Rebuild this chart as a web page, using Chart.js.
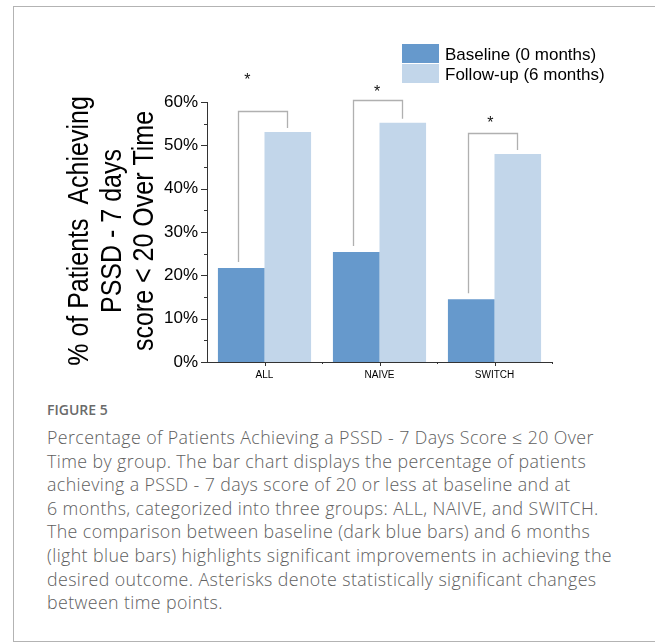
<!DOCTYPE html>
<html>
<head>
<meta charset="utf-8">
<script src="https://cdn.jsdelivr.net/npm/chart.js@4.4.0/dist/chart.umd.min.js"></script>
<style>
    body { margin: 0; background: #fff; width: 655px; height: 642px; overflow: hidden; position: relative; font-family: "Open Sans", sans-serif; }
    #marco { position: absolute; left: 13px; top: 6px; width: 700px; height: 634px; border: 1px solid #b3b3b3; border-right: none; }
    #grafico { position: absolute; left: 0; top: 0; }
    #figura { position: absolute; left: 47px; top: 400px; font-size: 14px; line-height: 19px; font-weight: 600; color: #6a6a6a; }
    #leyenda-texto { position: absolute; left: 47px; top: 426px; font-size: 17.8px; line-height: 23.6px; font-weight: 300; letter-spacing: 0.4px; color: #606060; white-space: nowrap; }
</style>
</head>
<body>
<div id="marco"></div>
<canvas id="grafico" width="655" height="400"></canvas>
<div id="figura">FIGURE 5</div>
<div id="leyenda-texto">
    Percentage of Patients Achieving a PSSD - 7 Days Score ≤ 20 Over<br>
    Time by group. The bar chart displays the percentage of patients<br>
    achieving a PSSD - 7 days score of 20 or less at baseline and at<br>
    6 months, categorized into three groups: ALL, NAIVE, and SWITCH.<br>
    The comparison between baseline (dark blue bars) and 6 months<br>
    (light blue bars) highlights significant improvements in achieving the<br>
    desired outcome. Asterisks denote statistically significant changes<br>
    between time points.
</div>
<script>
// datos
const grupos = ['ALL', 'NAIVE', 'SWITCH'];
const baseline = [21.7, 25.4, 14.5];
const seguimiento = [53.1, 55.2, 48.0];
const ticksY = [0, 10, 20, 30, 40, 50, 60];
const leyenda = ['Baseline (0 months)', 'Follow-up (6 months)'];
const tituloY = ['% of Patients  Achieving', 'PSSD - 7 days', 'score < 20 Over Time'];

// corchetes de significancia (en % del eje y) y asteriscos
const corcheteTope = [57.9, 60.5, 52.8];
const asteriscoY = [66.0, 63.2, 56.1];
const asteriscoX = [-0.15, 0.98, 1.965];

const colores = ['#6699cc', '#c2d6ea'];
const fuente = '"Liberation Sans", Arial, sans-serif';

const adornos = {
    id: 'adornos',
    afterDraw: function (chart) {
        const ctx = chart.ctx;
        const x = chart.scales.x, y = chart.scales.y, area = chart.chartArea;
        ctx.save();

        // marcas de los ejes
        ctx.strokeStyle = '#333';
        ctx.lineWidth = 1;
        ctx.beginPath();
        ticksY.forEach((v, i) => {
            const py = Math.round(y.getPixelForValue(v)) + 0.5;
            ctx.moveTo(area.left - 6, py);
            ctx.lineTo(area.left, py);
            if (i > 0) {
                const pm = Math.round(y.getPixelForValue((v + ticksY[i - 1]) / 2)) + 0.5;
                ctx.moveTo(area.left - 3, pm);
                ctx.lineTo(area.left, pm);
            }
        });
        grupos.forEach((g, i) => {
            const px = Math.round(x.getPixelForValue(i)) + 0.5;
            ctx.moveTo(px, area.bottom);
            ctx.lineTo(px, area.bottom + 4);
            const pb = Math.round(x.getPixelForValue(i + 0.5)) + 0.5;
            ctx.moveTo(pb, area.bottom);
            ctx.lineTo(pb, area.bottom + 2);
        });
        ctx.stroke();

        // corchetes y asteriscos
        const m0 = chart.getDatasetMeta(0).data, m1 = chart.getDatasetMeta(1).data;
        grupos.forEach((g, i) => {
            const xa = Math.round(m0[i].x) - 3 + 0.5;
            const xb = Math.round(m1[i].x) - 1 + 0.5;
            const tope = Math.round(y.getPixelForValue(corcheteTope[i])) + 0.5;
            ctx.strokeStyle = '#b0b0b0';
            ctx.lineWidth = 1.3;
            ctx.beginPath();
            ctx.moveTo(xa, m0[i].y - 6);
            ctx.lineTo(xa, tope);
            ctx.lineTo(xb, tope);
            ctx.lineTo(xb, m1[i].y - 4);
            ctx.stroke();
            ctx.fillStyle = '#111';
            ctx.font = '16px ' + fuente;
            ctx.textAlign = 'center';
            ctx.textBaseline = 'alphabetic';
            ctx.fillText('*', x.getPixelForValue(asteriscoX[i]), y.getPixelForValue(asteriscoY[i]) + 9);
        });

        // leyenda
        ctx.font = '17px ' + fuente;
        ctx.textAlign = 'left';
        ctx.textBaseline = 'alphabetic';
        leyenda.forEach((t, i) => {
            const arriba = 44 + i * 20;
            ctx.fillStyle = colores[i];
            ctx.fillRect(402, arriba, 37, 19);
            ctx.fillStyle = '#000';
            ctx.fillText(t, 445, arriba + 15.5);
        });

        // titulo del eje y (letras algo estiradas como en el original)
        ctx.font = '25px ' + fuente;
        ctx.textAlign = 'center';
        ctx.fillStyle = '#000';
        ctx.translate(88, (area.top + area.bottom) / 2 - 1);
        ctx.rotate(-Math.PI / 2);
        tituloY.forEach((t, i) => {
            ctx.save();
            ctx.translate(0, i * 32.5);
            ctx.scale(1, 1.2);
            ctx.fillText(t, 0, 0);
            ctx.restore();
        });

        ctx.restore();
    }
};

new Chart(document.getElementById('grafico'), {
    type: 'bar',
    data: {
        labels: grupos,
        datasets: [
            { label: leyenda[0], data: baseline, backgroundColor: colores[0], categoryPercentage: 0.81, barPercentage: 1 },
            { label: leyenda[1], data: seguimiento, backgroundColor: colores[1], categoryPercentage: 0.81, barPercentage: 1 }
        ]
    },
    options: {
        responsive: false,
        animation: false,
        devicePixelRatio: 1,
        layout: { padding: { left: 56, top: 102, right: 103, bottom: 8 } },
        plugins: { legend: { display: false }, tooltip: { enabled: false } },
        scales: {
            x: {
                grid: { display: false, drawTicks: false },
                border: { display: true, color: '#333', width: 1 },
                ticks: { color: '#000', font: { family: fuente, size: 10 }, padding: 7 },
                afterFit: function (s) { s.height = 30; }
            },
            y: {
                min: 0,
                max: 60,
                afterBuildTicks: function (s) { s.ticks = ticksY.map(v => ({ value: v })); },
                grid: { display: false, drawTicks: false },
                border: { display: true, color: '#333', width: 1 },
                ticks: { color: '#000', font: { family: fuente, size: 17 }, padding: 9, callback: v => v + '%' },
                afterFit: function (s) { s.width = 151; }
            }
        }
    },
    plugins: [adornos]
});
</script>
</body>
</html>
